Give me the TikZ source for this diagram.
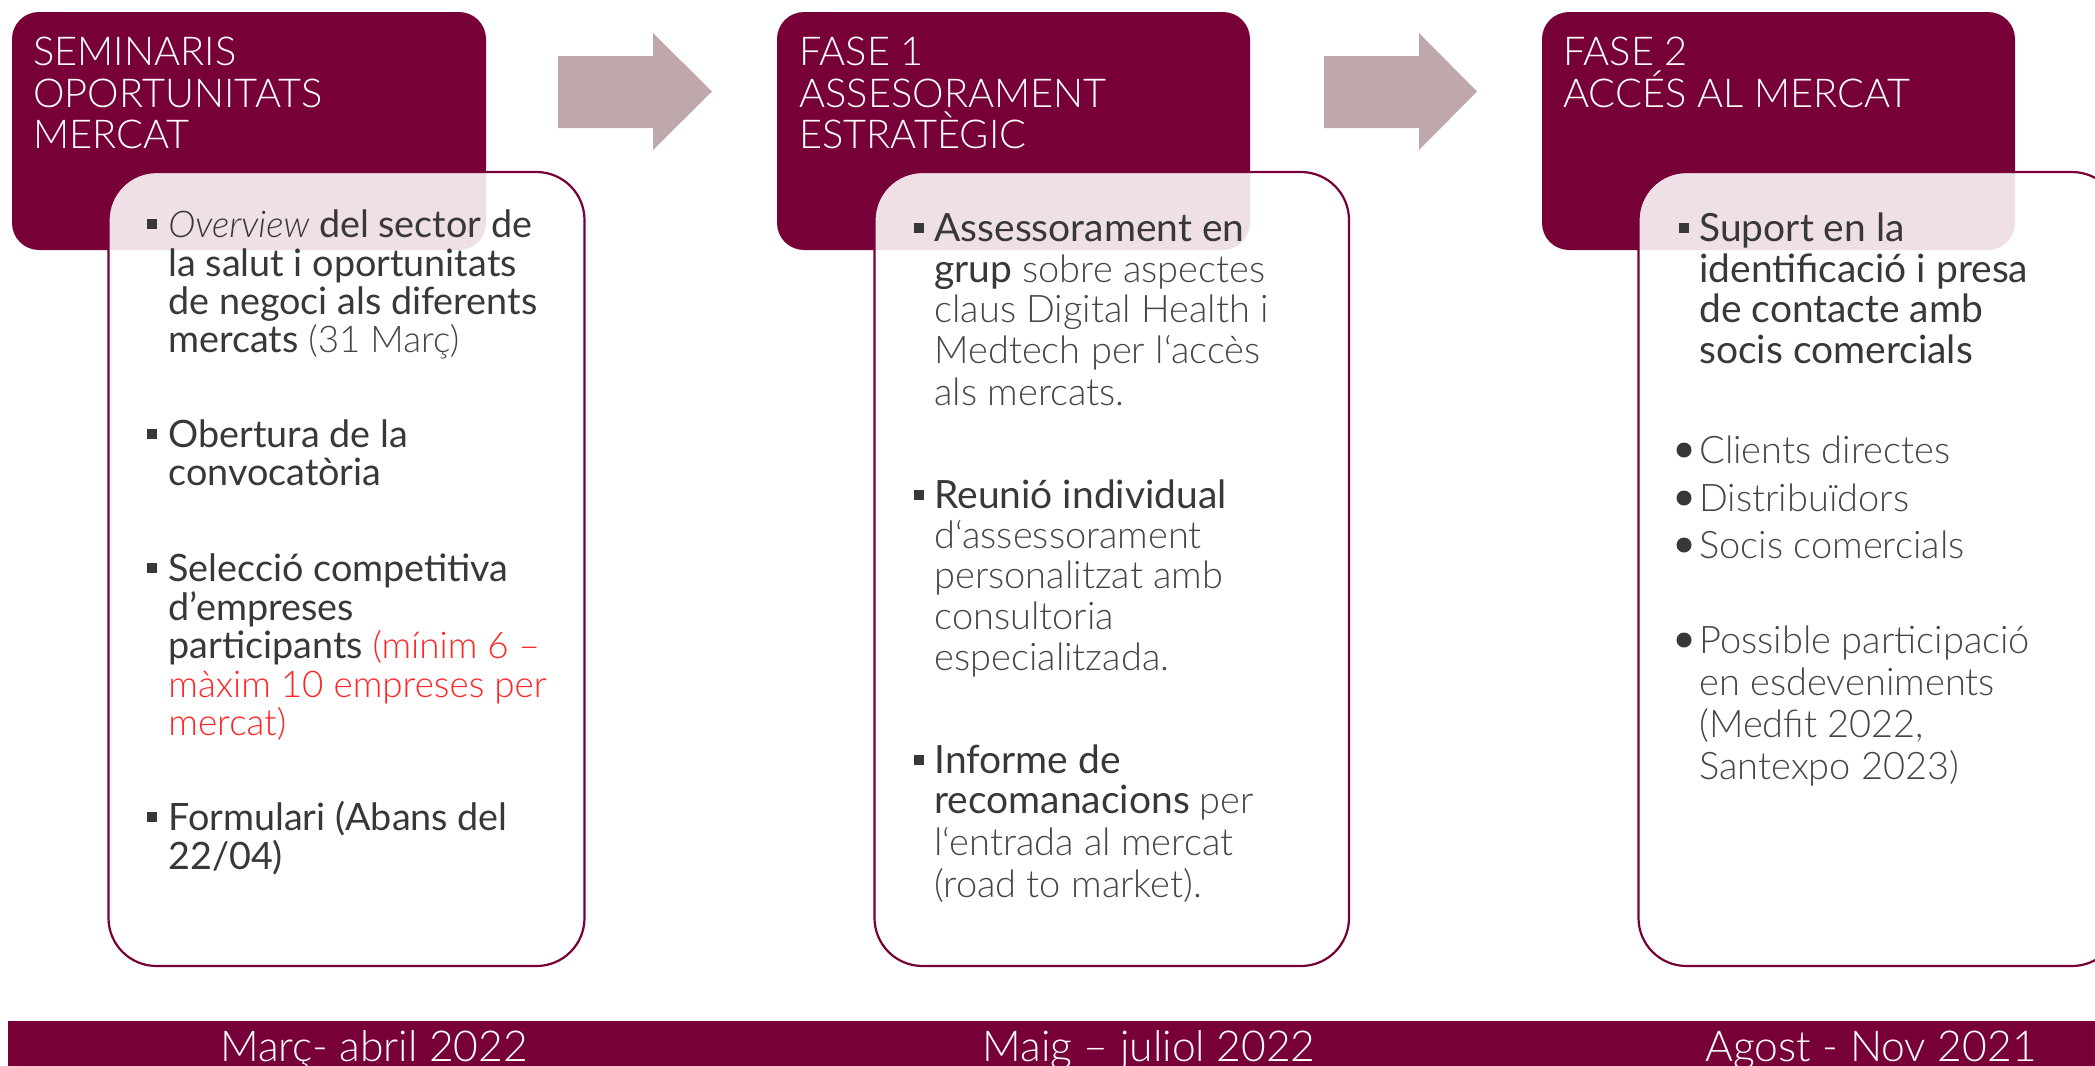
\documentclass[tikz,border=0pt]{standalone}
\usepackage{fontspec}
\setmainfont{Lato}[Scale=1.025]
\newfontfamily\lt{Lato}[UprightFont={* Light},ItalicFont={* Light Italic}]
\definecolor{maroon}{RGB}{119,0,56}
\definecolor{arrowc}{RGB}{190,168,172}
\definecolor{txt}{RGB}{56,56,56}
\definecolor{ltxt}{RGB}{70,70,70}
\definecolor{redt}{RGB}{255,38,38}
\begin{document}
\begin{tikzpicture}[x=0.5pt,y=-0.5pt,
  hdr/.style={fill=maroon, rounded corners=13.5pt},
  card/.style={draw=maroon, line width=1.1pt, fill=white, fill opacity=0.88, rounded corners=24pt},
  blockarrow/.style={fill=arrowc},
  ln/.style={anchor=base west, inner sep=0, text=txt, font=\fontsize{19}{20}\selectfont},
  lnone/.style={ln, font=\fontsize{18.4}{19}\selectfont},
  ht/.style={anchor=base west, inner sep=0, text=white, font=\lt\fontsize{19.9}{20}\selectfont},
  sq/.style={rectangle, fill=txt, minimum size=5pt, inner sep=0},
  dotb/.style={circle, fill=txt, minimum size=7.5pt, inner sep=0},
  bandtxt/.style={anchor=base, inner sep=0, text=white, font=\lt\fontsize{21.3}{22}\selectfont}]
\useasboundingbox (0,0) rectangle (2095,1066);
\clip (0,0) rectangle (2095,1066);
% headers
\path[hdr] (12,12) rectangle (486,250);
\path[hdr] (777,12) rectangle (1250,250);
\path[hdr] (1542,12) rectangle (2015,250);
% arrows
\path[blockarrow] (558,56) -- (653,56) -- (653,33) -- (712,91.5) -- (653,150) -- (653,128) -- (558,128) -- cycle;
\path[blockarrow] (1324,56) -- (1419,56) -- (1419,33) -- (1477,91.5) -- (1419,150) -- (1419,128) -- (1324,128) -- cycle;
% cards
\draw[card] (108.5,172) rectangle (584.5,966);
\draw[card] (874.5,172) rectangle (1349,966);
\draw[card] (1638.5,172) rectangle (2120,966);
% bottom band
\path[fill=maroon] (8,1021) rectangle (2100,1075);
% header texts
\node[ht] (h1a) at (33,65) {SEMINARIS};
\node[ht] (h1b) at (33,107) {OPORTUNITATS};
\node[ht] (h1c) at (33,148) {MERCAT};
\node[ht] (h2a) at (799,65) {FASE 1};
\node[ht] (h2b) at (799,107) {ASSESORAMENT};
\node[ht] (h2c) at (799,148) {ESTRATÈGIC};
\node[ht] (h3a) at (1563,65) {FASE 2};
\node[ht] (h3b) at (1563,107) {ACCÉS AL MERCAT};
% card 1
\node[sq] (s1a) at (151.5,224) {};
\node[sq] (s1b) at (151.5,434) {};
\node[sq] (s1c) at (151.5,568) {};
\node[sq] (s1d) at (151.5,817) {};
\node[lnone] (t1a) at (168,237) {{\lt\itshape Overview} del sector de};
\node[lnone] (t1b) at (168,276) {la salut i oportunitats};
\node[lnone] (t1c) at (168,314) {de negoci als diferents};
\node[lnone] (t1d) at (168,352) {mercats {\lt\color{ltxt}(31 Març)}};
\node[lnone] (t1e) at (168,447) {Obertura de la};
\node[lnone] (t1f) at (168,485) {convocatòria};
\node[lnone] (t1g) at (168,581) {Selecció competitiva};
\node[lnone] (t1h) at (168,620) {d’empreses};
\node[lnone] (t1i) at (168,658) {participants {\lt\color{redt}(mínim 6 –}};
\node[lnone,text=redt] (t1j) at (168,697) {\lt màxim 10 empreses per};
\node[lnone,text=redt] (t1k) at (168,735) {\lt mercat)};
\node[lnone] (t1l) at (168,830) {Formulari (Abans del};
\node[lnone] (t1m) at (168,869) {22/04)};
% card 2
\node[sq] (s2a) at (918.5,228) {};
\node[sq] (s2b) at (918.5,495) {};
\node[sq] (s2c) at (918.5,760) {};
\node[ln] (t2a) at (934,241) {Assessorament en};
\node[ln] (t2b) at (934,282) {grup {\lt\color{ltxt}sobre aspectes}};
\node[ln,text=ltxt] (t2c) at (934,322) {\lt claus Digital Health i};
\node[ln,text=ltxt] (t2d) at (934,363) {\lt Medtech per l‘accès};
\node[ln,text=ltxt] (t2e) at (934,405) {\lt als mercats.};
\node[ln] (t2f) at (934,508) {Reunió individual};
\node[ln,text=ltxt] (t2g) at (934,548) {\lt d‘assessorament};
\node[ln,text=ltxt] (t2h) at (934,588) {\lt personalitzat amb};
\node[ln,text=ltxt] (t2i) at (934,629) {\lt consultoria};
\node[ln,text=ltxt] (t2j) at (934,670) {\lt especialitzada.};
\node[ln] (t2k) at (934,773) {Informe de};
\node[ln] (t2l) at (934,813) {recomanacions {\lt\color{ltxt}per}};
\node[ln,text=ltxt] (t2m) at (934,855) {\lt l‘entrada al mercat};
\node[ln,text=ltxt] (t2n) at (934,897) {\lt (road to market).};
% card 3
\node[sq] (s3a) at (1683.5,228) {};
\node[ln] (t3a) at (1699,241) {Suport en la};
\node[ln] (t3b) at (1699,282) {identificació i presa};
\node[ln] (t3c) at (1699,322) {de contacte amb};
\node[ln] (t3d) at (1699,363) {socis comercials};
\node[dotb] (d3a) at (1684,450) {};
\node[dotb] (d3b) at (1684,498) {};
\node[dotb] (d3c) at (1684,545) {};
\node[dotb] (d3d) at (1684,640) {};
\node[ln,text=ltxt] (t3e) at (1699,463) {\lt Clients directes};
\node[ln,text=ltxt] (t3f) at (1699,511) {\lt Distribuïdors};
\node[ln,text=ltxt] (t3g) at (1699,558) {\lt Socis comercials};
\node[ln,text=ltxt] (t3h) at (1699,653) {\lt Possible participació};
\node[ln,text=ltxt] (t3i) at (1699,695) {\lt en esdeveniments};
\node[ln,text=ltxt] (t3j) at (1699,737) {\lt (Medfit 2022,};
\node[ln,text=ltxt] (t3k) at (1699,779) {\lt Santexpo 2023)};
% band texts
\node[bandtxt] (m1) at (374,1061) {Març- abril 2022};
\node[bandtxt] (m2) at (1149,1061) {Maig – juliol 2022};
\node[bandtxt] (m3) at (1871,1061) {Agost - Nov 2021};
\end{tikzpicture}
\end{document}
